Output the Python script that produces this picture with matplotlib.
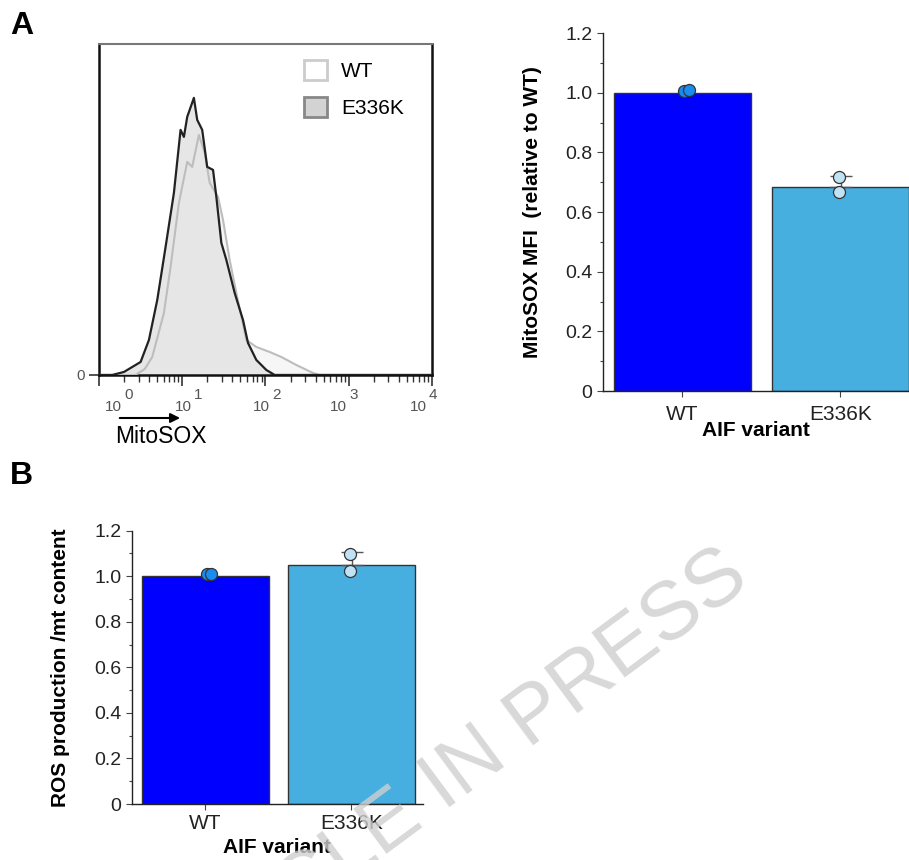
import matplotlib
matplotlib.use('Agg')
import matplotlib.pyplot as plt
from matplotlib.patches import Patch
from matplotlib.ticker import LogLocator, MultipleLocator, NullFormatter
import numpy as np

plt.rcParams['font.family'] = ['Liberation Sans', 'DejaVu Sans']

# flow histogram (log10 MitoSOX, counts)
e336k_logx = [0.0, 0.16, 0.30, 0.40, 0.50, 0.60, 0.70, 0.80, 0.90, 0.98, 1.02, 1.06,
              1.14, 1.18, 1.24, 1.30, 1.37, 1.41, 1.47, 1.53, 1.63, 1.73, 1.79,
              1.89, 2.01, 2.11, 4.0]
e336k_counts = [0, 0, 3, 8, 13, 35, 75, 128, 182, 245, 238, 258,
                277, 255, 245, 208, 205, 178, 132, 115, 82, 55, 32,
                15, 5, 0, 0]
wt_logx = [0.0, 0.44, 0.55, 0.64, 0.78, 0.86, 0.96, 1.06, 1.12, 1.20, 1.27, 1.33,
           1.43, 1.49, 1.57, 1.65, 1.77, 1.89, 2.05, 2.19, 2.37, 2.57, 2.65, 4.0]
wt_counts = [0, 0, 6, 18, 62, 108, 172, 213, 208, 240, 222, 192,
             178, 155, 115, 82, 35, 28, 23, 18, 10, 2, 0, 0]
hist_exps = ['0', '1', '2', '3', '4']

# bar charts
variants = ['WT', 'E336K']
y_ticks = [0, 0.2, 0.4, 0.6, 0.8, 1.0, 1.2]
y_tick_labels = ['0', '0.2', '0.4', '0.6', '0.8', '1.0', '1.2']
mfi_mean = [1.0, 0.685]
mfi_err = [0.0, 0.035]
mfi_points = [[1.005, 1.008], [0.718, 0.668]]
ros_mean = [1.0, 1.049]
ros_err = [0.0, 0.058]
ros_points = [[1.01, 1.01], [1.098, 1.023]]

bar_colors = ['#0000ff', '#47afdf']
dot_colors = ['#1a8cf0', '#bfe3f5']

fig = plt.figure(figsize=(9.09, 8.6), dpi=100)

# ---- A: histogram ----
ax = fig.add_axes([0.1089, 0.564, 0.3663, 0.385])
wx = np.power(10.0, wt_logx)
ex = np.power(10.0, e336k_logx)
ax.fill_between(wx, wt_counts, color='#f6f6f6', lw=0, zorder=1)
ax.fill_between(ex, e336k_counts, color='#e6e6e6', lw=0, zorder=2)
ax.plot(wx, wt_counts, color='#bdbdbd', lw=1.5, zorder=3)
ax.plot(ex, e336k_counts, color='#222222', lw=1.6, zorder=4)
ax.set_xscale('log')
ax.set_xlim(1, 10000)
ax.set_ylim(0, 331)
ax.xaxis.set_major_locator(LogLocator(base=10))
ax.xaxis.set_minor_locator(LogLocator(base=10, subs=np.arange(2, 10)))
ax.xaxis.set_major_formatter(NullFormatter())
ax.xaxis.set_minor_formatter(NullFormatter())
ax.tick_params(axis='x', which='major', length=8, width=1.2, color='#333333')
ax.tick_params(axis='x', which='minor', length=5, width=1.0, color='#333333')
ax.set_yticks([0])
ax.set_yticklabels(['0'], color='#555555', fontsize=11)
ax.tick_params(axis='y', length=7, width=1.2, color='#333333')
for s in ['left', 'bottom', 'right']:
    ax.spines[s].set_linewidth(1.8)
    ax.spines[s].set_color('#111111')
ax.spines['top'].set_color('#777777')
ax.spines['top'].set_linewidth(1.5)

# "10" + raised exponent, FlowJo style
label_pos = [0.276, 1.117, 2.054, 2.979, 3.94]
for xp, e in zip(label_pos, hist_exps):
    ax.text(10**xp, -0.109, '10', transform=ax.get_xaxis_transform(),
            ha='right', va='baseline', fontsize=11, color='#555555')
    ax.annotate(e, xy=(10**xp, -0.109), xycoords=ax.get_xaxis_transform(),
                xytext=(1.5, 8.5), textcoords='offset points',
                ha='left', va='baseline', fontsize=11, color='#555555',
                annotation_clip=False)

ax.annotate('', xy=(0.252, -0.13), xytext=(0.054, -0.13), xycoords='axes fraction',
            arrowprops=dict(arrowstyle='-|>', color='black', lw=1.5, mutation_scale=14),
            annotation_clip=False)
ax.text(0.186, -0.187, 'MitoSOX', transform=ax.transAxes, ha='center', va='center',
        fontsize=16.5)

handles = [Patch(facecolor='white', edgecolor='#cccccc', lw=2, label='WT'),
           Patch(facecolor='#d3d3d3', edgecolor='#888888', lw=2, label='E336K')]
ax.legend(handles=handles, loc='upper left', bbox_to_anchor=(0.615, 0.951), frameon=False,
          fontsize=15, handlelength=1.1, handleheight=1.1, handletextpad=0.7,
          labelspacing=0.75, borderpad=0, borderaxespad=0)


def bar_panel(ax, means, errs, points, ylabel, xlim, tickpad, xlabelpad):
    x = np.arange(len(variants))
    ax.bar(x, means, width=0.866, color=bar_colors, edgecolor='#333333', lw=1.0, zorder=1)
    for i in range(len(x)):
        if errs[i] > 0:
            ax.errorbar(x[i] + 0.005, means[i], yerr=[[0], [errs[i]]], fmt='none',
                        ecolor='#555555', elinewidth=1.0, capsize=8, capthick=1.0, zorder=2)
    offsets = [[0.01, 0.04], [-0.01, -0.01]]
    for i, pts in enumerate(points):
        ax.scatter([x[i] + o for o in offsets[i]], pts, s=75, color=dot_colors[i],
                   edgecolor='#333333', lw=0.9, zorder=3)
    ax.set_xlim(*xlim)
    ax.set_ylim(0, 1.2)
    ax.set_xticks(x)
    ax.set_xticklabels(variants, fontsize=15)
    ax.set_yticks(y_ticks)
    ax.set_yticklabels(y_tick_labels, fontsize=14)
    ax.yaxis.set_minor_locator(MultipleLocator(0.1))
    ax.tick_params(axis='both', which='major', length=4, width=0.8, color='#444444',
                   colors='#222222')
    ax.tick_params(axis='y', which='minor', length=2.5, width=0.8, color='#444444')
    ax.tick_params(axis='x', pad=tickpad)
    for s in ['top', 'right']:
        ax.spines[s].set_visible(False)
    for s in ['left', 'bottom']:
        ax.spines[s].set_color('#222222')
        ax.spines[s].set_linewidth(1.0)
    ax.set_ylabel(ylabel, fontsize=15, fontweight='bold', labelpad=17)
    ax.set_xlabel('AIF variant', fontsize=15, fontweight='bold', labelpad=xlabelpad)


# ---- A: MitoSOX MFI ----
ax2 = fig.add_axes([0.6634, 0.5453, 0.3366, 0.4163])
bar_panel(ax2, mfi_mean, mfi_err, mfi_points, 'MitoSOX MFI  (relative to WT)',
          (-0.503, 1.434), 6, -2)

# ---- B: ROS production ----
ax3 = fig.add_axes([0.1449, 0.0651, 0.3205, 0.3178])
bar_panel(ax3, ros_mean, ros_err, ros_points, 'ROS production /mt content',
          (-0.505, 1.49), 3, 4)

fig.text(0.011, 0.97, 'A', fontsize=23, fontweight='bold', va='center', ha='left')
fig.text(0.011, 0.447, 'B', fontsize=23, fontweight='bold', va='center', ha='left')

fig.text(0.827, 0.321, 'ARTICLE IN PRESS', rotation=36.5, rotation_mode='anchor',
         ha='right', va='baseline', fontsize=59, color='#cfcfcf', alpha=0.8, zorder=10)

fig.savefig('out.png', dpi=100)
